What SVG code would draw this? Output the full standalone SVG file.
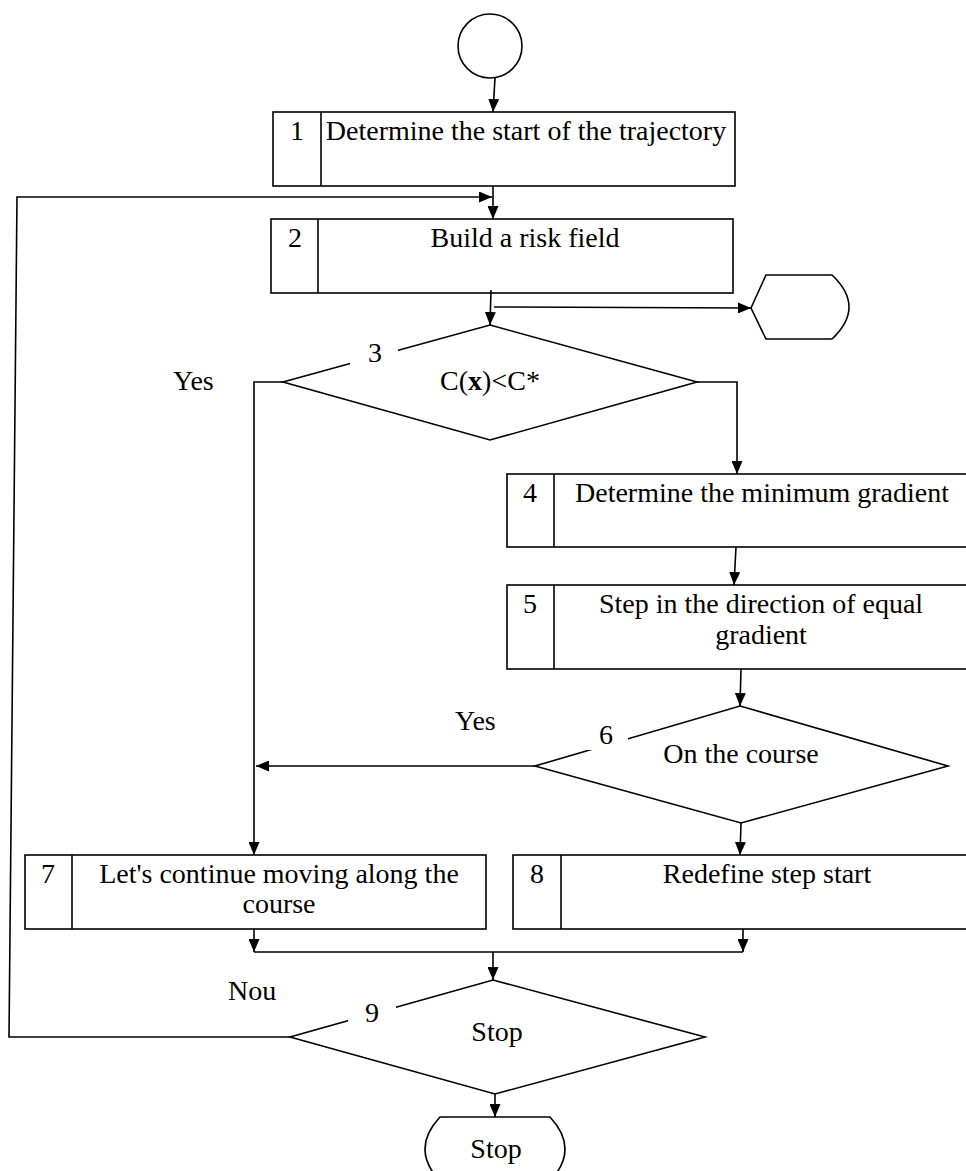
<svg xmlns="http://www.w3.org/2000/svg" width="966" height="1171" viewBox="0 0 966 1171">
<style>
.s{fill:#fff;stroke:#000;stroke-width:1.6}
.c{fill:none;stroke:#000;stroke-width:1.6}
.t{font-family:"Liberation Serif","Times New Roman",serif;font-size:28px;fill:#000}
.m{text-anchor:middle}
.w{fill:#fff;stroke:none}
</style>
<defs>
<marker id="ah" markerUnits="userSpaceOnUse" markerWidth="13" markerHeight="11" refX="13" refY="5.5" orient="auto">
<path d="M0,0 L13,5.5 L0,11 Z" fill="#000"/>
</marker>
</defs>
<rect width="966" height="1171" fill="#fff"/>

<g id="start">
<circle class="s" cx="490" cy="46" r="32"/>
</g>

<g id="n1">
<rect class="s" x="273" y="112" width="462" height="74"/>
<line class="c" x1="321" y1="112" x2="321" y2="186"/>
<text class="t m" x="297" y="140">1</text>
<text class="t m" x="526" y="140">Determine the start of the trajectory</text>
</g>

<g id="n2">
<rect class="s" x="271" y="219" width="462" height="74"/>
<line class="c" x1="318" y1="219" x2="318" y2="293"/>
<text class="t m" x="295" y="247">2</text>
<text class="t m" x="525" y="247">Build a risk field</text>
</g>

<g id="display">
<path class="s" d="M751,308 L766,275 L832,275 Q866,307 832,339 L766,339 Z"/>
</g>

<g id="n3">
<polygon class="s" points="490,325 697,382 490,440 283,382"/>
<rect class="w" x="350" y="340" width="48" height="30"/>
<text class="t m" x="375" y="362">3</text>
<text class="t m" x="490" y="390">C(<tspan font-weight="bold">x</tspan>)&lt;C*</text>
</g>

<g id="n4">
<rect class="s" x="507" y="474" width="463" height="73"/>
<line class="c" x1="554" y1="474" x2="554" y2="547"/>
<text class="t m" x="530" y="502">4</text>
<text class="t m" x="762" y="502">Determine the minimum gradient</text>
</g>

<g id="n5">
<rect class="s" x="507" y="585" width="463" height="84"/>
<line class="c" x1="554" y1="585" x2="554" y2="669"/>
<text class="t m" x="530" y="613">5</text>
<text class="t m" x="761" y="613">Step in the direction of equal</text>
<text class="t m" x="761" y="644">gradient</text>
</g>

<g id="n6">
<polygon class="s" points="740,706 948,766 741,823 535,766"/>
<rect class="w" x="584" y="720" width="44" height="30"/>
<text class="t m" x="606" y="744">6</text>
<text class="t m" x="741" y="763">On the course</text>
</g>

<g id="n7">
<rect class="s" x="25" y="855" width="461" height="74"/>
<line class="c" x1="72" y1="855" x2="72" y2="929"/>
<text class="t m" x="48" y="883">7</text>
<text class="t m" x="279" y="883">Let's continue moving along the</text>
<text class="t m" x="279" y="913">course</text>
</g>

<g id="n8">
<rect class="s" x="513" y="855" width="457" height="74"/>
<line class="c" x1="561" y1="855" x2="561" y2="929"/>
<text class="t m" x="537" y="883">8</text>
<text class="t m" x="767" y="883">Redefine step start</text>
</g>

<g id="n9">
<polygon class="s" points="493,980 705,1037 495,1094 290,1037"/>
<rect class="w" x="348" y="1000" width="48" height="28"/>
<text class="t m" x="372" y="1022">9</text>
<text class="t m" x="497" y="1041">Stop</text>
</g>

<g id="end">
<path class="s" d="M440,1117 L550,1117 Q580,1149 550,1181 L440,1181 Q410,1149 440,1117 Z"/>
<text class="t m" x="496" y="1158">Stop</text>
</g>

<g id="labels">
<text class="t" x="173" y="390">Yes</text>
<text class="t" x="455" y="730">Yes</text>
<text class="t" x="228" y="1000">Nou</text>
</g>

<g id="connectors">
<line class="c" x1="495" y1="78" x2="493" y2="112" marker-end="url(#ah)"/>
<line class="c" x1="493" y1="186" x2="493" y2="219" marker-end="url(#ah)"/>
<polyline class="c" points="290,1037 9,1037 17,197 492,197" marker-end="url(#ah)"/>
<line class="c" x1="491" y1="290" x2="490" y2="325" marker-end="url(#ah)"/>
<line class="c" x1="494" y1="307" x2="751" y2="308" marker-end="url(#ah)"/>
<polyline class="c" points="283,382 254,382 254,855" marker-end="url(#ah)"/>
<polyline class="c" points="697,382 737,382 737,474" marker-end="url(#ah)"/>
<line class="c" x1="736" y1="547" x2="734" y2="585" marker-end="url(#ah)"/>
<line class="c" x1="741" y1="669" x2="740" y2="706" marker-end="url(#ah)"/>
<line class="c" x1="535" y1="766" x2="256" y2="766" marker-end="url(#ah)"/>
<line class="c" x1="741" y1="823" x2="740" y2="855" marker-end="url(#ah)"/>
<line class="c" x1="254" y1="929" x2="254" y2="952" marker-end="url(#ah)"/>
<line class="c" x1="743" y1="929" x2="743" y2="952" marker-end="url(#ah)"/>
<line class="c" x1="254" y1="952" x2="743" y2="952"/>
<line class="c" x1="493" y1="952" x2="493" y2="980" marker-end="url(#ah)"/>
<line class="c" x1="495" y1="1094" x2="495" y2="1117" marker-end="url(#ah)"/>
</g>
</svg>
